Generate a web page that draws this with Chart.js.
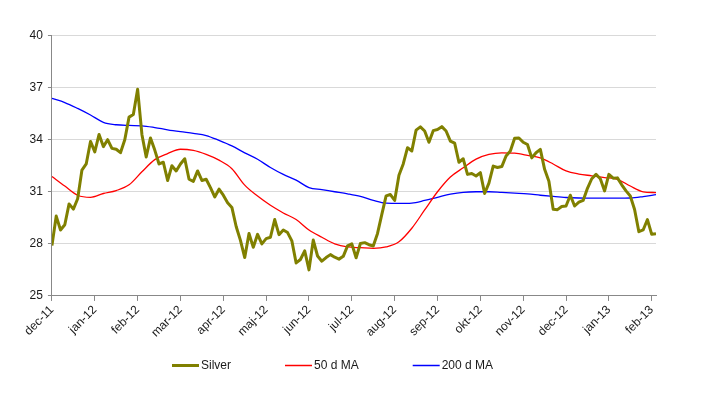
<!DOCTYPE html>
<html><head><meta charset="utf-8">
<script src="https://cdn.jsdelivr.net/npm/chart.js@4.4.1/dist/chart.umd.min.js"></script>
<style>html,body{margin:0;padding:0;background:#fff}#wrap{position:relative;width:726px;height:395px}</style>
</head><body><div id="wrap"><canvas id="c"></canvas></div>
<script>
const months = ['dec-11','jan-12','feb-12','mar-12','apr-12','maj-12','jun-12','jul-12','aug-12','sep-12','okt-12','nov-12','dec-12','jan-13','feb-13'];
const TICK_EVERY = 10;
const silver = [
27.9,29.6,28.8,29.1,30.3,30.0,30.6,32.25,32.6,33.9,
33.3,34.3,33.6,34.0,33.5,33.45,33.25,34.0,35.3,35.45,
36.9,34.3,33.0,34.1,33.4,32.6,32.7,31.65,32.5,32.2,
32.6,32.9,31.72,31.6,32.2,31.65,31.72,31.24,30.7,31.15,
30.8,30.37,30.1,29.0,28.2,27.21,28.6,27.8,28.55,28.0,
28.3,28.38,29.4,28.53,28.8,28.65,28.17,26.9,27.1,27.6,
26.5,28.22,27.3,27.0,27.21,27.38,27.23,27.12,27.28,27.88,
28.0,27.2,28.02,28.07,27.95,27.88,28.6,29.7,30.76,30.84,
30.5,31.95,32.6,33.54,33.35,34.55,34.74,34.5,33.85,34.52,
34.59,34.75,34.5,33.92,33.8,32.7,32.9,32.0,32.05,31.91,
32.1,30.9,31.5,32.48,32.4,32.45,33.06,33.35,34.08,34.1,
33.85,33.72,32.95,33.25,33.44,32.29,31.6,29.99,29.97,30.15,
30.18,30.8,30.18,30.4,30.5,31.2,31.75,32.0,31.75,31.05,
32.0,31.78,31.8,31.4,31.05,30.76,29.98,28.7,28.8,29.4,
28.55,28.59];
const MA_STEP = 3;
const ma50 = [
31.88,31.33,30.8,30.68,30.9,31.07,31.4,32.15,32.85,33.2,
33.45,33.38,33.15,32.82,32.33,31.38,30.75,30.22,29.78,29.4,
28.8,28.38,28.0,27.82,27.78,27.74,27.82,28.12,28.9,29.95,
31.0,31.85,32.38,32.88,33.15,33.24,33.22,33.1,32.95,32.6,
32.2,32.02,31.92,31.82,31.72,31.33,31.0,30.95];
const ma200 = [
36.38,36.14,35.8,35.42,35.0,34.86,34.82,34.8,34.7,34.57,
34.46,34.36,34.24,33.96,33.64,33.24,32.87,32.4,32.0,31.67,
31.24,31.12,31.0,30.88,30.73,30.5,30.34,30.33,30.35,30.5,
30.68,30.86,30.97,31.0,31.0,30.96,30.92,30.88,30.8,30.73,
30.67,30.64,30.63,30.63,30.63,30.64,30.72,30.83];

const FONT = '"Liberation Sans", Arial, sans-serif';
const TEXT = '#1a1a1a';
const legendWidths = [3, 1.5, 1.5];

const legendPlugin = {
  id: 'bottomLegend',
  afterDraw(chart) {
    const ctx = chart.ctx;
    ctx.save();
    ctx.font = '12px ' + FONT;
    ctx.textBaseline = 'middle';
    ctx.textAlign = 'left';
    let x = 172;
    const y = 365.5;
    chart.data.datasets.forEach((ds, i) => {
      ctx.strokeStyle = ds.borderColor;
      ctx.lineWidth = legendWidths[i];
      ctx.beginPath();
      ctx.moveTo(x, y);
      ctx.lineTo(x + 27, y);
      ctx.stroke();
      ctx.fillStyle = TEXT;
      ctx.fillText(ds.label, x + 29, y);
      x += 29 + ctx.measureText(ds.label).width + 54;
    });
    ctx.restore();
  }
};

new Chart(document.getElementById('c'), {
  type: 'line',
  data: {
    datasets: [
      { label: 'Silver', data: silver.map((v, i) => ({ x: i, y: v })), borderColor: '#808000', borderWidth: 3, pointRadius: 0, tension: 0, borderJoinStyle: 'round' },
      { label: '50 d MA', data: ma50.map((v, j) => ({ x: j * MA_STEP, y: v })), borderColor: '#ff0000', borderWidth: 1.3, pointRadius: 0, cubicInterpolationMode: 'monotone' },
      { label: '200 d MA', data: ma200.map((v, j) => ({ x: j * MA_STEP, y: v })), borderColor: '#0000ff', borderWidth: 1.3, pointRadius: 0, cubicInterpolationMode: 'monotone' }
    ]
  },
  options: {
    responsive: true,
    maintainAspectRatio: false,
    animation: false,
    layout: { padding: { left: 24.6, right: 70, top: 35.5, bottom: 53 } },
    plugins: { legend: { display: false }, tooltip: { enabled: false } },
    scales: {
      x: {
        type: 'linear', min: 0, max: silver.length - 1,
        grid: { drawOnChartArea: false, tickLength: 5, tickColor: '#888' },
        border: { color: '#888' },
        ticks: {
          stepSize: TICK_EVERY, includeBounds: false, autoSkip: false,
          maxRotation: 45, minRotation: 45, padding: 2, color: TEXT,
          font: { family: FONT, size: 12 },
          callback: (v) => (v % TICK_EVERY === 0 ? months[v / TICK_EVERY] : '')
        }
      },
      y: {
        min: 25, max: 40,
        grid: { color: '#d9d9d9', tickLength: 4, tickColor: '#888' },
        border: { color: '#888' },
        ticks: { stepSize: 3, padding: 5, color: TEXT, font: { family: FONT, size: 12 } }
      }
    }
  },
  plugins: [legendPlugin]
});
</script>
</body></html>
